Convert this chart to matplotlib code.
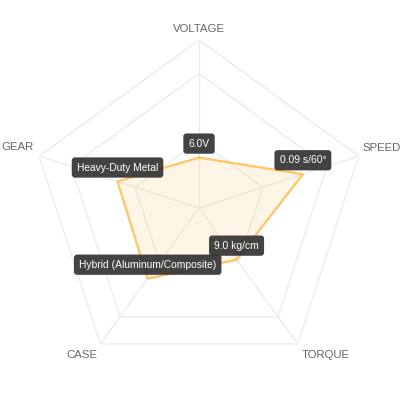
import numpy as np
import matplotlib
matplotlib.use("Agg")
import matplotlib.pyplot as plt

plt.rcParams['font.family'] = ['Liberation Sans', 'DejaVu Sans']

# data (scores on 0-100 scale)
axes_names = ["VOLTAGE", "SPEED", "TORQUE", "CASE", "GEAR"]
scores = [30, 65, 38, 52, 51]
point_labels = ["6.0V", "0.09 s/60°", "9.0 kg/cm",
                "Hybrid (Aluminum/Composite)", "Heavy-Duty Metal"]
ring_levels = [40, 80, 100]

line_color = "#FFC466"
grid_color = "#ECECEC"

fig = plt.figure(figsize=(4.04, 4.04), dpi=100)
ax = fig.add_axes([0.0768, 0.0693, 0.8317, 0.8317], polar=True)
ax.set_theta_offset(np.pi / 2)
ax.set_theta_direction(-1)
ax.set_ylim(0, 100)
ax.axis("off")

n = len(axes_names)
angles = np.linspace(0, 2 * np.pi, n, endpoint=False)
closed = np.append(angles, angles[0])

# pentagon rings + spokes
for lv in ring_levels:
    ax.plot(closed, [lv] * (n + 1), color=grid_color, lw=1, zorder=1)
for a in angles:
    ax.plot([a, a], [0, 100], color=grid_color, lw=1, zorder=1)

# data polygon
vals = scores + [scores[0]]
ax.fill(closed, vals, color="#FFB84D", alpha=0.13, zorder=2, lw=0)
ax.plot(closed, vals, color=line_color, lw=1.6, zorder=3)

# axis names
name_pos = {
    "VOLTAGE": ((0, 11), "center"),
    "SPEED": ((4, 8), "left"),
    "TORQUE": ((4, -11), "left"),
    "CASE": ((-3, -11), "right"),
    "GEAR": ((-6, 9), "right"),
}
for a, name in zip(angles, axes_names):
    off, ha = name_pos[name]
    ax.annotate(name, xy=(a, 100), xytext=off, textcoords="offset pixels",
                ha=ha, va="center", fontsize=8.2, color="#666666")

# value labels
for a, v, lab in zip(angles, scores, point_labels):
    ax.annotate(lab, xy=(a, v), xytext=(0, 14), textcoords="offset pixels",
                ha="center", va="center", fontsize=7.4, color="white", zorder=5,
                bbox=dict(boxstyle="round,pad=0.5,rounding_size=0.3",
                          fc="#333333", ec="none", alpha=0.92))

plt.savefig("out.png", dpi=100)
